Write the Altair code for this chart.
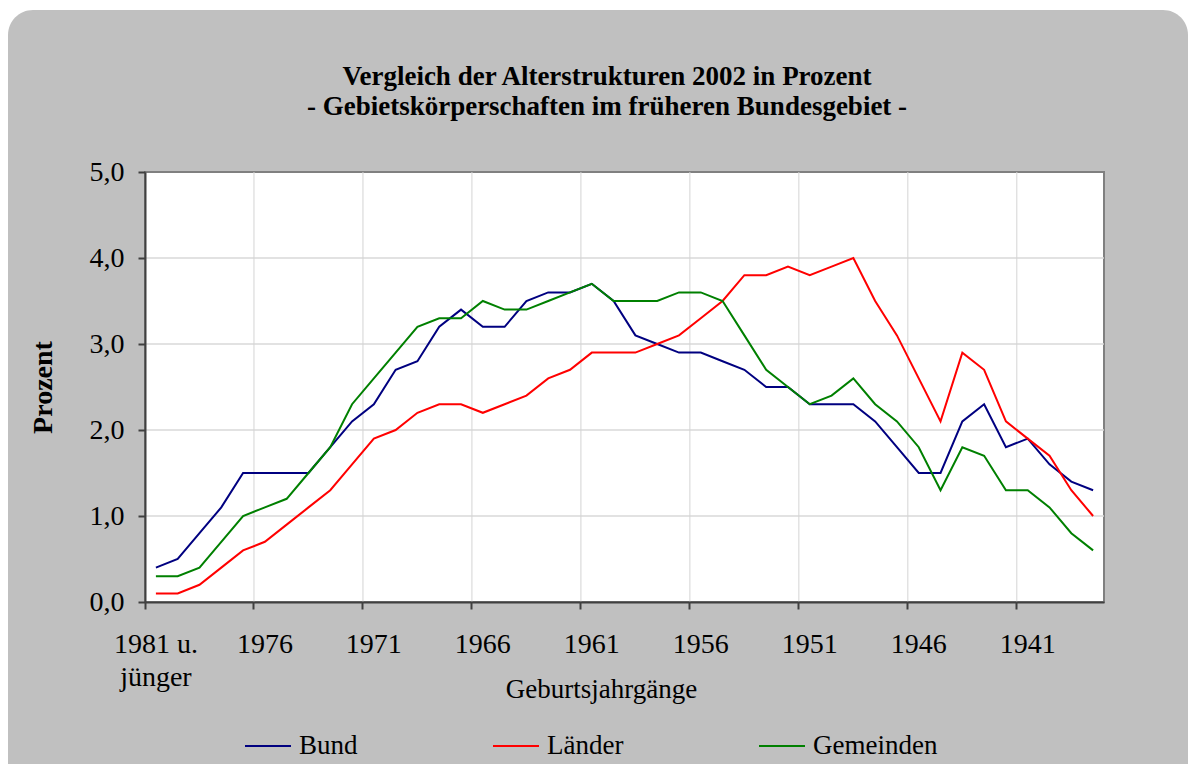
import altair as alt
import pandas as pd

SERIF = "Liberation Serif"

categories = ["1981 u. jünger"] + [str(y) for y in range(1980, 1937, -1)]
tick_labels = ["1981 u. jünger", "1976", "1971", "1966", "1961", "1956", "1951", "1946", "1941"]
grid_years = ["1976", "1971", "1966", "1961", "1956", "1951", "1946", "1941"]
y_ticks = [0, 1, 2, 3, 4, 5]
y_grid = [1, 2, 3, 4]

bund = [0.4, 0.5, 0.8, 1.1, 1.5, 1.5, 1.5, 1.5, 1.8, 2.1, 2.3, 2.7, 2.8, 3.2, 3.4,
        3.2, 3.2, 3.5, 3.6, 3.6, 3.7, 3.5, 3.1, 3.0, 2.9, 2.9, 2.8, 2.7, 2.5, 2.5,
        2.3, 2.3, 2.3, 2.1, 1.8, 1.5, 1.5, 2.1, 2.3, 1.8, 1.9, 1.6, 1.4, 1.3]
laender = [0.1, 0.1, 0.2, 0.4, 0.6, 0.7, 0.9, 1.1, 1.3, 1.6, 1.9, 2.0, 2.2, 2.3, 2.3,
           2.2, 2.3, 2.4, 2.6, 2.7, 2.9, 2.9, 2.9, 3.0, 3.1, 3.3, 3.5, 3.8, 3.8, 3.9,
           3.8, 3.9, 4.0, 3.5, 3.1, 2.6, 2.1, 2.9, 2.7, 2.1, 1.9, 1.7, 1.3, 1.0]
gemeinden = [0.3, 0.3, 0.4, 0.7, 1.0, 1.1, 1.2, 1.5, 1.8, 2.3, 2.6, 2.9, 3.2, 3.3, 3.3,
             3.5, 3.4, 3.4, 3.5, 3.6, 3.7, 3.5, 3.5, 3.5, 3.6, 3.6, 3.5, 3.1, 2.7, 2.5,
             2.3, 2.4, 2.6, 2.3, 2.1, 1.8, 1.3, 1.8, 1.7, 1.3, 1.3, 1.1, 0.8, 0.6]

series = ["Bund", "Länder", "Gemeinden"]
colors = ["#000080", "#FF0000", "#008000"]
title_lines = ["Vergleich der Alterstrukturen 2002 in Prozent",
               "- Gebietskörperschaften im früheren Bundesgebiet -"]

n = len(categories)
df = pd.DataFrame({
    "Jahrgang": categories * 3,
    "Prozent": bund + laender + gemeinden,
    "Serie": [series[0]] * n + [series[1]] * n + [series[2]] * n,
    "idx": list(range(n)) * 3,
})

W, H = 959, 430
PAD = {"left": 137, "top": 164, "right": 84, "bottom": 162}

xscale = alt.Scale(type="band", domain=categories, paddingInner=0, paddingOuter=0)
yscale = alt.Scale(domain=[0, 5], nice=False)

x_axis = alt.Axis(
    values=tick_labels, bandPosition=0, tickExtra=False,
    labelExpr="datum.value == '1981 u. jünger' ? ['1981 u.', 'jünger'] : datum.value",
    labelFont=SERIF, labelFontSize=28, labelColor="black", labelLineHeight=33,
    labelPadding=21, labelAngle=0, labelBaseline="top", labelOverlap=False,
    tickSize=7, tickColor="#404040", tickWidth=2,
    domainColor="#404040", domainWidth=2, grid=False,
    title="Geburtsjahrgänge", titleFont=SERIF, titleFontSize=27,
    titleFontWeight="normal", titleColor="black", titleX=456, titleY=95,
    titleAlign="center", titleBaseline="alphabetic", zindex=1,
)
y_axis = alt.Axis(
    values=y_ticks,
    labelExpr="replace(format(datum.value, '.1f'), '.', ',')",
    labelFont=SERIF, labelFontSize=28, labelColor="black", labelPadding=14,
    tickSize=7, tickColor="#404040", tickWidth=2,
    domainColor="#404040", domainWidth=2, grid=False,
    title="Prozent", titleFont=SERIF, titleFontSize=28, titleFontWeight="bold",
    titleColor="black", titleAngle=270, titleX=-102, titleY=215,
    titleAlign="center", titleBaseline="middle", zindex=1,
)

one = pd.DataFrame({"k": [0]})

bg = alt.Chart(one).mark_rect(fill="#C0C0C0", cornerRadius=25).encode(
    x=alt.value(-PAD["left"]), x2=alt.value(W + PAD["right"]),
    y=alt.value(-PAD["top"] + 2), y2=alt.value(H + PAD["bottom"] + 40),
)
plot_bg = alt.Chart(one).mark_rect(fill="white", stroke="#808080", strokeWidth=2).encode(
    x=alt.value(0), x2=alt.value(W), y=alt.value(0), y2=alt.value(H),
)
hgrid = alt.Chart(pd.DataFrame({"Prozent": y_grid})).mark_rule(
    color="#D9D9D9", strokeWidth=1.5
).encode(y=alt.Y("Prozent:Q", scale=yscale, axis=y_axis))
vgrid = alt.Chart(pd.DataFrame({"Jahrgang": grid_years})).mark_rule(
    color="#D4D4D4", strokeWidth=1
).encode(x=alt.X("Jahrgang:O", scale=xscale, axis=x_axis, bandPosition=0))

lines = alt.Chart(df).mark_line(strokeWidth=2).encode(
    x=alt.X("Jahrgang:O", scale=xscale, axis=x_axis, bandPosition=0.5),
    y=alt.Y("Prozent:Q", scale=yscale, axis=y_axis),
    color=alt.Color(
        "Serie:N", scale=alt.Scale(domain=series, range=colors),
        legend=alt.Legend(
            title=None, orient="none", legendX=99, legendY=550,
            direction="horizontal", symbolType="stroke", symbolSize=2116,
            symbolStrokeWidth=2, labelFont=SERIF, labelFontSize=27,
            labelColor="black", labelOffset=7, columnPadding=131, padding=0,
            labelLimit=0,
        ),
    ),
    order=alt.Order("idx:Q"),
)

title_mark = alt.Chart(one).mark_text(
    text=title_lines, font=SERIF, fontSize=27, fontWeight="bold", lineHeight=30,
    align="center", baseline="alphabetic", color="black",
).encode(x=alt.value(462), y=alt.value(-87))

chart = alt.layer(bg, plot_bg, hgrid, vgrid, lines, title_mark).properties(
    width=W, height=H, padding=PAD,
    autosize=alt.AutoSizeParams(type="none"), background="white",
).configure_view(stroke=None)

chart.save("out.html", embed_options={"renderer": "svg", "actions": False})
